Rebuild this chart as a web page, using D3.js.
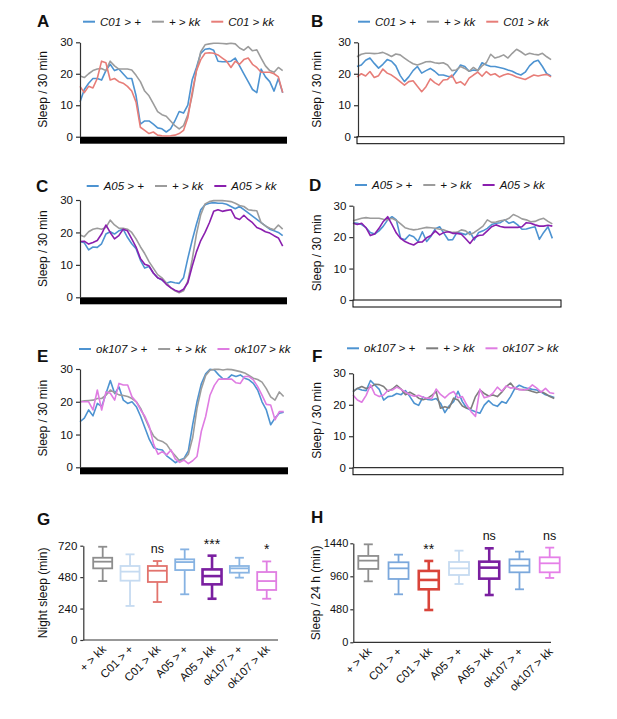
<!DOCTYPE html>
<html><head><meta charset="utf-8">
<script src="https://cdn.jsdelivr.net/npm/d3@7"></script>
<style>
body{margin:0;background:#fff}
text{font-family:"Liberation Sans",Arial,Helvetica,sans-serif;fill:#111}
</style>
</head><body>
<svg id="chart" width="617" height="719"></svg>
<script>
// ---------- DATA ----------
const lineTicks = [0, 10, 20, 30];
const gTicks = [0, 240, 480, 720];
const hTicks = [0, 480, 960, 1440];

// Panel A (light:dark, sleep per 30 min)
const aC01Plus = [11,15,17,18.5,18.5,18,21,23,21,21.5,20,18.5,18.5,13,4,5,5,4,2.8,2.5,1.5,2.5,5,8,7.5,10,18,22,26.5,27.8,28,27.5,24,23.8,23.8,24,25,22.5,20,17.5,15,14,21.5,19,17.5,14.5,18.5,14];
const aPlusKk  = [19.3,18.8,20,21,21.5,21.7,21,24,22.5,21.5,21.5,21.5,21.2,19.5,17.5,14.5,13,10.5,8,7,6.5,5,3.5,2.5,3.5,7,13,21,27,29.2,29.5,29.7,29.7,29.6,29.5,29.7,29.5,28.2,27.5,28.6,27.3,27.6,25,22.5,21,20.5,22,21];
const aC01Kk   = [16,14,16,15.5,18.5,24,23.5,18,18.5,17.5,17,16,14.5,11,3,2,1,1.5,0.5,0.3,0.2,0.3,0.5,1,2,6,14,21,24.5,26.5,26.7,26.5,26,25,24,22,24,23,24.5,25,23,22,20.5,20.5,20.5,20,19,14];
// Panel B (dark:dark)
const bC01Plus = [22.3,22.8,24.3,25,23.3,21.8,23,24.5,24,22.5,19.5,17.5,19,21,22.3,20.2,21,21.7,20.8,19.6,19.6,19.2,19,20.7,22.8,22.3,20.8,21.2,21,23.5,22.8,22.3,22.3,22,21.7,21.2,20.8,20.1,19.6,20.5,22.5,23.8,24.3,22.3,20,19.3];
const bPlusKk  = [25.4,26.2,26.5,26.5,26.4,26.5,26.8,26.2,25.5,26.3,26,25,24,23.2,22.8,23.3,23.8,23.9,23.5,23.3,23.5,22.8,21,21.2,22.3,21.7,20.8,22,21,22.5,23.5,26.2,25,25.4,26,25,26.5,27.8,27,26,26.5,26.2,26,26.5,25.4,24.5];
const bC01Kk   = [19,20,19.3,20.7,18.8,19.4,21.5,20.2,19.6,18.6,17.5,16.4,17.5,17.8,16,14.3,15.9,18.4,17.2,16.4,18,18.2,19.6,17,17.5,16.4,18.6,19.6,20.5,19.2,20.7,19.6,20,19,19.6,20,19.6,19,18.6,18.2,18.9,19.6,19.3,19.6,19.8,19];
// Panel C
const cA05Plus = [17.2,16.8,14.6,15.5,15.4,16.5,19.5,20.2,19.5,20.5,21,18.5,16.5,15,11.5,9,9.5,7.5,6,5.3,4.3,4.8,4.5,4.3,6,12,17.5,22.5,27,28.5,29,29.2,29,29,28.7,28,27.3,28,27,26,25,24,23,22,21,20.5,20,19];
const cPlusKk  = [19.2,18.7,20.2,21,21.3,21,21.5,23.8,22.3,21.3,21.3,21,20,18,15.6,13.5,11,9,7,6,4.5,3,2,1.4,2,5,11.5,19.5,25.5,28.8,29.5,29.8,29.8,29.8,29.7,29.5,29,28.3,28,27,26.8,26.7,23,22,21.3,20.8,22.3,21];
const cA05Kk   = [17.2,17.3,16.4,16.9,17.5,19.5,22.3,20,18,19,21,20.5,18,15.5,12,10.2,9.7,7.5,6,5.5,4,3,2.2,1.7,2.5,4.5,9.5,14,17.5,20,23,26.5,27,26.5,26.8,27,24.5,24,25.3,24,23,21.5,21,20.2,19.8,19,18.3,15.8];
// Panel D
const dA05Plus = [24.6,24.4,24,23,21.5,21,22,23.5,25.5,26.5,25.5,19.6,19.2,20.7,20.1,18.6,21.7,18.6,20.3,22.7,23.3,21.2,19.1,19.2,21.5,21.2,20.8,21.7,19.1,21.5,22,22.8,24,24.4,24.6,25.5,24.4,24.9,23.9,22.5,22.6,23,23.3,19.3,21.5,23.3,19.6];
const dPlusKk  = [25.2,25.6,26,26.2,26,26,26,25.7,25.5,26,25.3,24.2,23,22.6,22.3,22.5,22.8,23.1,23,22.8,22.5,22.3,21.8,21.5,21.5,22.3,22,20.8,21.5,22.5,23.5,25.5,24.7,24.8,25.2,25.4,26,27.2,26.6,25.8,25.5,24.9,25,25.6,26,25,24.2];
const dA05Kk   = [24.4,24,24.4,23,20.5,21,22.8,25,26.5,24,21.3,19.6,18.6,18,17.5,18.4,18.5,19.8,20.5,22,20.7,21.5,21.7,21.2,21.2,20.9,19.5,18,19.8,20.5,20.7,22,23.3,23.9,23.4,23.1,23.1,23.1,23.1,23.3,24.6,24.4,23.9,23.5,23.5,23.8,23.5];
// Panel E
const eOkPlus  = [13.9,15,17.5,15.7,19.5,18.5,22.5,26.5,22.5,24.5,20.5,19.5,20,18.5,15.5,12,8.5,6,5.5,5.3,3.5,2.5,1.4,2.2,2.7,5,13,20,25.5,28.5,29.9,29.7,28.2,27,27,28.2,27.7,28.2,27.2,26.7,25.6,23.6,20,17.5,13,15,16.5,16.8];
const ePlusKk  = [20,20.3,20.4,20.5,21,21,22,23.6,22.8,22.1,21.9,21.6,21,20,18,15,12,9.5,8.3,7.9,7,5,3.5,1.9,2.5,4,9,18,24,28,29.6,29.9,29.9,29.7,29.9,29.8,29.5,29.2,28.8,28,27.2,26.8,26,24,21.5,20.5,23,21.6];
const eOkKk    = [20,20,20,17.5,23.6,17.5,23,22.6,20.5,25.6,25.1,25.1,21.5,20,17.5,15.5,12.5,7,4,4.8,3.8,5.3,2.5,1.5,2.2,1.1,2,3.3,11,15.5,22,25,26.9,26.9,26.9,26.9,25.8,25.6,27.7,27.7,26.7,24.6,22,19.2,19,14.5,17,17];
// Panel F
const fOkPlus  = [24.2,25.2,24.7,24.5,27.7,26.3,24.9,21.5,22.6,22.8,23.6,23.2,24.5,22.6,20.5,19.8,22.5,21.7,21.5,22,20.5,17.5,19.7,21,24.3,21,18.9,18.3,17.8,17.3,19.9,21.3,20,19.5,21,20.5,22.6,25.2,26.2,25.6,25.2,24.9,24.7,24,23.2,22.8,22.3];
const fPlusKk  = [24.2,25.2,25.8,25.2,25.6,26.5,26.4,25.8,24.3,25,26.2,25,23.2,24,23.2,22.1,21.6,22,23,24.2,18.9,19.4,19,22.1,21.5,19.6,18.9,18.9,22.6,24.7,23.6,22.8,23.1,22.6,24,25.8,26.9,25.2,24.9,24.8,24.7,24.2,23.8,24.2,23.5,22.6,22];
const fOkKk    = [23.1,21.5,20.8,23,26.3,23.3,22.6,23.1,24.6,24.7,25.6,24.9,24,23.2,22.7,23,22.4,22.1,22,25,23.3,22.2,23.5,24.2,22.2,22.6,20,17.8,16.3,25,22.2,22.6,23.7,25.6,24.3,26,25.3,25.5,24.8,24.7,25,26.3,25.3,24,25.2,23.8,23.6];

// Legend labels
const legendA = ["C01 > +", "+ > kk", "C01 > kk"];
const legendC = ["A05 > +", "+ > kk", "A05 > kk"];
const legendE = ["ok107 > +", "+ > kk", "ok107 > kk"];

// Box plots
const genotypes = ["+ > kk", "C01 > +", "C01  > kk", "A05 > +", "A05 > kk", "ok107 > +", "ok107 > kk"];
// G: night sleep (min)
const gMax = [712, 654, 603, 692, 644, 628, 600];
const gQ3  = [628, 565, 565, 616, 539, 565, 519];
const gMed = [598, 522, 529, 595, 488, 547, 450];
const gQ1  = [547, 453, 443, 534, 425, 514, 382];
const gMin = [450, 260, 290, 349, 315, 476, 315];
const gSig = ["", "", "ns", "", "***", "", "*"];
// H: sleep / 24 h (min)
const hMax = [1425, 1275, 1183, 1333, 1367, 1319, 1377];
const hQ3  = [1256, 1164, 1038, 1168, 1173, 1207, 1236];
const hMed = [1188, 1076, 907, 1076, 1086, 1115, 1149];
const hQ1  = [1067, 921, 771, 979, 926, 1018, 1018];
const hMin = [887, 698, 470, 848, 688, 771, 936];
const hSig = ["", "", "**", "", "ns", "", "ns"];

// ---------- STYLE ----------
const BLUE = "#4d93d1", GRAY = "#9c9c9c", RED = "#e77d78", PURPLE = "#8a1fae", PINK = "#df7ce2";
const FONT = '"Liberation Sans", Arial, sans-serif';
const svg = d3.select("#chart");

function panelLetter(t, x, y) {
  svg.append("text").attr("x", x).attr("y", y).text(t)
    .style("font-size", "17px").style("font-weight", "bold");
}

function yTitle(t, x, yMid) {
  svg.append("text").attr("transform", `translate(${x},${yMid}) rotate(-90)`)
    .attr("text-anchor", "middle").style("font-size", "12px").text(t);
}

function styleAxis(ax, fs) {
  ax.selectAll("path,line").attr("stroke", "#333").attr("stroke-width", 1.2);
  ax.selectAll("text").style("font-size", fs || "11.5px").style("font-family", FONT).attr("fill", "#111");
}

function legend(x0, y, labels, colors) {
  let x = x0;
  labels.forEach((lab, i) => {
    svg.append("line").attr("x1", x).attr("x2", x + 12).attr("y1", y).attr("y2", y)
      .attr("stroke", colors[i]).attr("stroke-width", 2);
    const t = svg.append("text").attr("x", x + 17).attr("y", y + 4).text(lab)
      .style("font-size", "11.5px").style("font-style", "italic");
    x += 17 + t.node().getComputedTextLength() + 11;
  });
}

function linePanel(o) {
  const x = d3.scaleLinear().domain([0, 48]).range([o.x0, o.x1]);
  const y = d3.scaleLinear().domain([0, 30]).range([o.yBot, o.yTop]);
  svg.append("rect").attr("x", o.x0).attr("y", o.yBot).attr("width", o.x1 - o.x0).attr("height", 7)
    .attr("fill", o.night ? "#000" : "#fff").attr("stroke", "#000").attr("stroke-width", o.night ? 0 : 1);
  const line = d3.line().x((d, i) => x(i)).y(d => y(d));
  o.series.forEach((s, i) => {
    svg.append("path").datum(s).attr("d", line).attr("fill", "none")
      .attr("stroke", o.colors[i]).attr("stroke-width", 1.6).attr("stroke-linejoin", "round");
  });
  const ax = svg.append("g").attr("transform", `translate(${o.axisX},0)`)
    .call(d3.axisLeft(y).tickValues(lineTicks).tickSize(4).tickSizeOuter(0).tickPadding(3));
  styleAxis(ax);
  yTitle("Sleep / 30 min", o.titleX, (o.yTop + o.yBot) / 2);
  legend(o.legX, o.legY, o.labels, o.colors);
  panelLetter(o.letter, o.letX, o.letY);
}

linePanel({x0: 80, x1: 287, yTop: 42.3, yBot: 136.7, axisX: 80, night: true,
  series: [aC01Plus, aPlusKk, aC01Kk], colors: [BLUE, GRAY, RED], labels: legendA,
  titleX: 47, legX: 83, legY: 21.7, letter: "A", letX: 37, letY: 27});
linePanel({x0: 357, x1: 564, yTop: 42.3, yBot: 136.7, axisX: 358, night: false,
  series: [bC01Plus, bPlusKk, bC01Kk], colors: [BLUE, GRAY, RED], labels: legendA,
  titleX: 321, legX: 358, legY: 21.7, letter: "B", letX: 311, letY: 27});
linePanel({x0: 80, x1: 287, yTop: 200, yBot: 297.3, axisX: 80, night: true,
  series: [cA05Plus, cPlusKk, cA05Kk], colors: [BLUE, GRAY, PURPLE], labels: legendC,
  titleX: 47, legX: 86.7, legY: 186, letter: "C", letX: 36, letY: 192});
linePanel({x0: 353, x1: 561, yTop: 205.7, yBot: 300, axisX: 353.3, night: false,
  series: [dA05Plus, dPlusKk, dA05Kk], colors: [BLUE, GRAY, PURPLE], labels: legendC,
  titleX: 321, legX: 355, legY: 185, letter: "D", letX: 309, letY: 191});
linePanel({x0: 80, x1: 288, yTop: 369, yBot: 467.3, axisX: 80, night: true,
  series: [eOkPlus, ePlusKk, eOkKk], colors: [BLUE, GRAY, PINK], labels: legendE,
  titleX: 47, legX: 79, legY: 349, letter: "E", letX: 37, letY: 362});
linePanel({x0: 353, x1: 563, yTop: 373.3, yBot: 467.7, axisX: 353, night: false,
  series: [fOkPlus, fPlusKk, fOkKk], colors: [BLUE, "#7d7d7d", PINK], labels: legendE,
  titleX: 321, legX: 347, legY: 348.3, letter: "F", letX: 312, letY: 362});

// ---------- BOX PLOTS ----------
function boxPanel(o) {
  const x = d3.scalePoint().domain(genotypes).range([o.c0, o.c1]);
  const y = d3.scaleLinear().domain([0, o.max]).range([o.yBot, o.yTop]);
  svg.append("line").attr("x1", o.axisX).attr("x2", o.xEnd).attr("y1", o.yBot).attr("y2", o.yBot)
    .attr("stroke", "#333").attr("stroke-width", 1.2);
  genotypes.forEach((gname, i) => {
    const cx = x(gname), col = o.colors[i], sw = o.widths[i];
    const g = svg.append("g").attr("stroke", col).attr("stroke-width", sw).attr("fill", "none");
    g.append("line").attr("x1", cx).attr("x2", cx).attr("y1", y(o.vmax[i])).attr("y2", y(o.q3[i]));
    g.append("line").attr("x1", cx).attr("x2", cx).attr("y1", y(o.q1[i])).attr("y2", y(o.vmin[i]));
    [o.vmax[i], o.vmin[i]].forEach(v => g.append("line").attr("x1", cx - 4.5).attr("x2", cx + 4.5)
      .attr("y1", y(v)).attr("y2", y(v)));
    g.append("rect").attr("x", cx - o.bw / 2).attr("width", o.bw)
      .attr("y", y(o.q3[i])).attr("height", y(o.q1[i]) - y(o.q3[i])).attr("fill", "#fff");
    g.append("line").attr("x1", cx - o.bw / 2).attr("x2", cx + o.bw / 2)
      .attr("y1", y(o.med[i])).attr("y2", y(o.med[i]));
    if (o.sig[i]) {
      const isStar = o.sig[i].startsWith("*");
      svg.append("text").attr("x", cx).attr("y", y(o.vmax[i]) + (isStar ? -7 : -8))
        .attr("text-anchor", "middle").style("font-size", isStar ? "14px" : "12.5px").text(o.sig[i]);
    }
    svg.append("text").attr("transform", `translate(${cx + 4},${o.yBot + 10}) rotate(-45)`)
      .attr("text-anchor", "end").style("font-size", "11.5px").text(gname);
  });
  const ax = svg.append("g").attr("transform", `translate(${o.axisX},0)`)
    .call(d3.axisLeft(y).tickValues(o.ticks).tickFormat(d3.format("d")).tickSize(3).tickSizeOuter(0).tickPadding(o.pad));
  styleAxis(ax, o.tickFs);
  yTitle(o.title, o.titleX, (o.yTop + o.yBot) / 2);
  panelLetter(o.letter, o.letX, o.letY);
}

boxPanel({c0: 102.7, c1: 266.7, axisX: 83.3, xEnd: 278, yTop: 545.7, yBot: 640, max: 720, ticks: gTicks,
  vmax: gMax, q3: gQ3, med: gMed, q1: gQ1, vmin: gMin, sig: gSig, bw: 19, pad: 3, tickFs: "11.5px",
  colors: ["#8e8e8e", "#c6dbf1", "#e2736d", "#86b2e2", "#7a1fa0", "#8ab5e3", "#e07ee2"],
  widths: [1.8, 1.8, 1.8, 1.8, 2.6, 1.8, 1.8],
  title: "Night sleep (min)", titleX: 47, letter: "G", letX: 37, letY: 525});
boxPanel({c0: 368.3, c1: 549.7, axisX: 353.3, xEnd: 551, yTop: 543.3, yBot: 642.3, max: 1440, ticks: hTicks,
  vmax: hMax, q3: hQ3, med: hMed, q1: hQ1, vmin: hMin, sig: hSig, bw: 20, pad: 2, tickFs: "11px",
  colors: ["#8e8e8e", "#7ba8dc", "#d9443a", "#c6dbf1", "#7a1fa0", "#7ba8dc", "#e580e8"],
  widths: [1.8, 1.8, 2.6, 1.8, 2.6, 1.8, 1.8],
  title: "Sleep / 24 h (min)", titleX: 320, letter: "H", letX: 311, letY: 523});
</script>
</body></html>
